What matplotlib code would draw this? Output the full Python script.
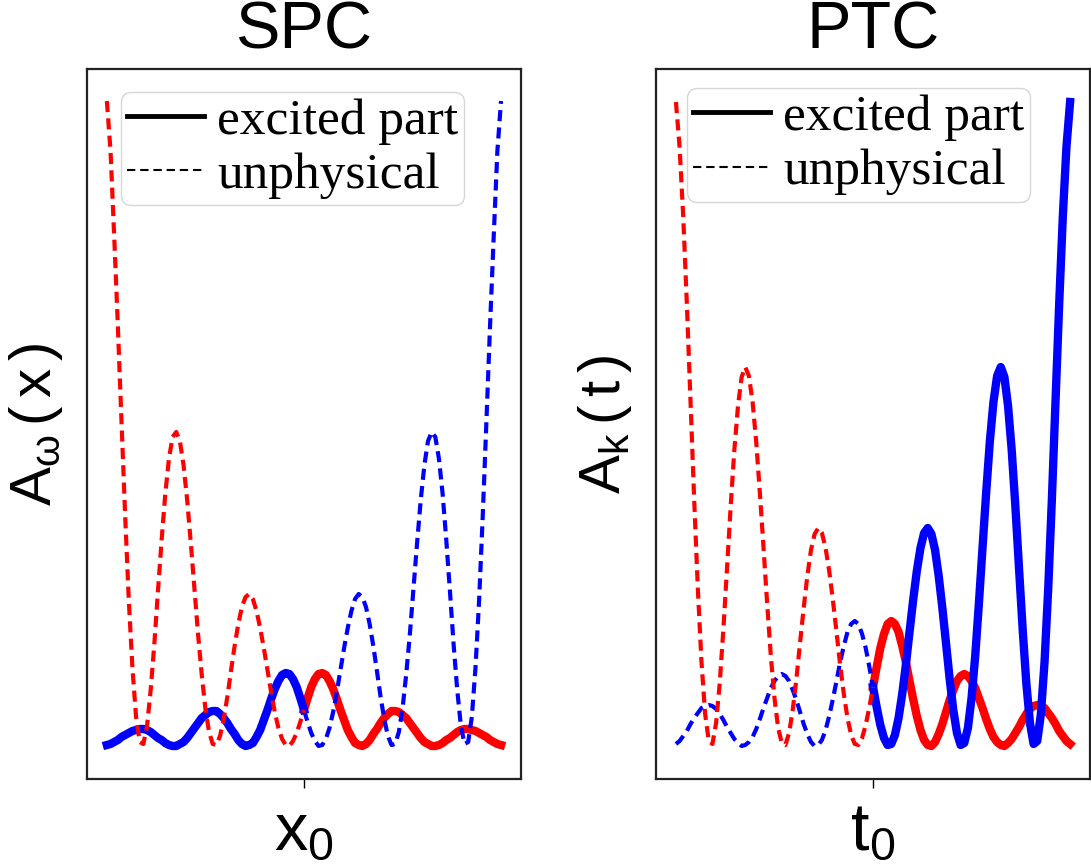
import matplotlib.pyplot as plt
import numpy as np
from matplotlib.lines import Line2D

plt.rcParams["font.family"] = "Liberation Sans"
plt.rcParams["mathtext.fontset"] = "custom"
plt.rcParams["mathtext.rm"] = "Liberation Sans"
plt.rcParams["mathtext.it"] = "Liberation Sans"
plt.rcParams["mathtext.default"] = "regular"
plt.rcParams["lines.scale_dashes"] = False

# position along the axis (0 = tick at x0 / t0)
x = np.linspace(-2.7, 2.7, 109)

# SPC panel
spc_red = [6.45, 5.95, 5.10, 4.21, 3.25, 2.31, 1.46, 0.78, 0.29, 0.04,
           0.02, 0.20, 0.56, 1.02, 1.55, 2.06, 2.52, 2.87, 3.09, 3.14,
           3.05, 2.81, 2.46, 2.03, 1.57, 1.11, 0.71, 0.37, 0.14, 0.02,
           0.01, 0.10, 0.27, 0.49, 0.75, 1.00, 1.22, 1.39, 1.49, 1.52,
           1.47, 1.35, 1.18, 0.98, 0.76, 0.54, 0.34, 0.18, 0.07, 0.01,
           0.00, 0.05, 0.13, 0.24, 0.36, 0.48, 0.59, 0.67, 0.72, 0.73,
           0.71, 0.65, 0.57, 0.47, 0.36, 0.26, 0.16, 0.09, 0.03, 0.01,
           0.00, 0.02, 0.06, 0.12, 0.17, 0.23, 0.28, 0.32, 0.35, 0.35,
           0.34, 0.31, 0.28, 0.23, 0.18, 0.13, 0.08, 0.04, 0.02, 0.00,
           0.00, 0.01, 0.03, 0.06, 0.08, 0.11, 0.14, 0.16, 0.17, 0.17,
           0.16, 0.15, 0.13, 0.11, 0.09, 0.06, 0.04, 0.02, 0.01]
spc_blue = [0.01, 0.02, 0.04, 0.06, 0.09, 0.11, 0.13, 0.15, 0.16,
            0.17, 0.17, 0.16, 0.14, 0.11, 0.08, 0.06, 0.03, 0.01, 0.00,
            0.00, 0.02, 0.04, 0.08, 0.13, 0.18, 0.23, 0.28, 0.31, 0.34,
            0.35, 0.35, 0.32, 0.28, 0.23, 0.17, 0.12, 0.06, 0.02, 0.00,
            0.01, 0.03, 0.09, 0.16, 0.26, 0.36, 0.47, 0.57, 0.65, 0.71,
            0.73, 0.72, 0.67, 0.59, 0.48, 0.36, 0.24, 0.13, 0.05, 0.00,
            0.01, 0.07, 0.18, 0.34, 0.54, 0.76, 0.98, 1.18, 1.35, 1.47,
            1.52, 1.49, 1.39, 1.22, 1.00, 0.75, 0.49, 0.27, 0.10, 0.01,
            0.02, 0.14, 0.37, 0.71, 1.11, 1.57, 2.03, 2.46, 2.81, 3.05,
            3.14, 3.09, 2.87, 2.52, 2.06, 1.55, 1.02, 0.56, 0.20, 0.02,
            0.04, 0.29, 0.78, 1.46, 2.31, 3.25, 4.21, 5.10, 5.95, 6.45]

# PTC panel
ptc_red = [6.44, 5.99, 5.29, 4.41, 3.44, 2.46, 1.57, 0.84, 0.32, 0.05,
           0.02, 0.23, 0.63, 1.17, 1.78, 2.40, 2.96, 3.40, 3.69, 3.79,
           3.70, 3.44, 3.04, 2.53, 1.98, 1.42, 0.90, 0.48, 0.18, 0.03,
           0.01, 0.13, 0.36, 0.67, 1.03, 1.38, 1.70, 1.96, 2.12, 2.18,
           2.13, 1.98, 1.75, 1.46, 1.14, 0.81, 0.52, 0.28, 0.11, 0.02,
           0.01, 0.08, 0.21, 0.39, 0.59, 0.79, 0.98, 1.12, 1.22, 1.25,
           1.22, 1.14, 1.00, 0.84, 0.65, 0.47, 0.30, 0.16, 0.06, 0.01,
           0.00, 0.04, 0.12, 0.22, 0.34, 0.46, 0.56, 0.65, 0.70, 0.72,
           0.70, 0.65, 0.58, 0.48, 0.38, 0.27, 0.17, 0.09, 0.04, 0.01,
           0.00, 0.03, 0.07, 0.13, 0.19, 0.26, 0.32, 0.37, 0.40, 0.41,
           0.40, 0.38, 0.33, 0.28, 0.22, 0.15, 0.10, 0.05, 0.02]
ptc_blue = [0.02, 0.05, 0.10, 0.15, 0.22, 0.28, 0.33, 0.38, 0.40,
            0.41, 0.40, 0.37, 0.32, 0.26, 0.19, 0.13, 0.07, 0.03, 0.00,
            0.01, 0.04, 0.09, 0.17, 0.27, 0.38, 0.48, 0.58, 0.65, 0.70,
            0.72, 0.70, 0.65, 0.56, 0.46, 0.34, 0.22, 0.12, 0.04, 0.00,
            0.01, 0.06, 0.16, 0.30, 0.47, 0.65, 0.84, 1.00, 1.14, 1.22,
            1.25, 1.22, 1.12, 0.98, 0.79, 0.59, 0.39, 0.21, 0.08, 0.01,
            0.02, 0.11, 0.28, 0.52, 0.81, 1.14, 1.46, 1.75, 1.98, 2.13,
            2.18, 2.12, 1.96, 1.70, 1.38, 1.03, 0.67, 0.36, 0.13, 0.01,
            0.03, 0.18, 0.48, 0.90, 1.42, 1.98, 2.53, 3.04, 3.44, 3.70,
            3.79, 3.69, 3.40, 2.96, 2.40, 1.78, 1.17, 0.63, 0.23, 0.02,
            0.05, 0.32, 0.84, 1.57, 2.46, 3.44, 4.41, 5.29, 5.99, 6.44]

spc_red = np.array(spc_red)
spc_blue = np.array(spc_blue)
ptc_red = np.array(ptc_red)
ptc_blue = np.array(ptc_blue)

mid = 54  # index of x = 0
thick = 6
thin = 3
dash = (8, 4.5)

fig = plt.figure(figsize=(10.91, 8.67), dpi=100)
ax1 = fig.add_axes([0.0797, 0.1015, 0.3978, 0.8189])
ax2 = fig.add_axes([0.6013, 0.1015, 0.3978, 0.8189])

# SPC: red excited on the right, blue excited on the left
ax1.plot(x[mid:], spc_red[mid:], color="red", lw=thick)
ax1.plot(x[:mid + 1], spc_blue[:mid + 1], color="blue", lw=thick)
ax1.plot(x[mid:], spc_blue[mid:], color="blue", lw=thin, dashes=dash)
ax1.plot(x[:mid + 1], spc_red[:mid + 1], color="red", lw=thin, dashes=dash)

# PTC: both excited on the right
ax2.plot(x[mid:], ptc_red[mid:], color="red", lw=thick)
ax2.plot(x[mid:], ptc_blue[mid:], color="blue", lw=thick)
ax2.plot(x[:mid + 1], ptc_blue[:mid + 1], color="blue", lw=thin, dashes=dash)
ax2.plot(x[:mid + 1], ptc_red[:mid + 1], color="red", lw=thin, dashes=dash)

handles = [Line2D([], [], color="black", lw=3.5),
           Line2D([], [], color="black", lw=1.5, dashes=(6, 3.5))]
labels = ["excited part", "unphysical"]

for ax, title, ylab, xlab, lx, ly in [
        (ax1, "SPC", r"$A_{\omega}\,(\,x\,)$", r"$x_0$", 0.078, 0.968),
        (ax2, "PTC", r"$A_{k}\,(\,t\,)$", r"$t_0$", 0.071, 0.973)]:
    ax.set_xlim(-2.973, 2.973)
    ax.set_ylim(-0.33, 6.77)
    ax.set_xticks([0])
    ax.set_xticklabels([])
    ax.set_yticks([])
    ax.tick_params(axis="x", length=6.5, width=1)
    for s in ax.spines.values():
        s.set_linewidth(1.6)
        s.set_color("#222222")
    ax.set_title(title, fontsize=48, pad=15)
    ax.set_ylabel(ylab, fontsize=42, labelpad=16)
    ax.set_xlabel(xlab, fontsize=48, labelpad=6)
    ax.legend(handles, labels, loc="upper left", bbox_to_anchor=(lx, ly),
              borderaxespad=0, prop={"family": "Liberation Serif", "size": 37},
              handlelength=1.5, handletextpad=0.25, borderpad=0.12,
              labelspacing=0.14)

plt.savefig("out.png", dpi=100)
